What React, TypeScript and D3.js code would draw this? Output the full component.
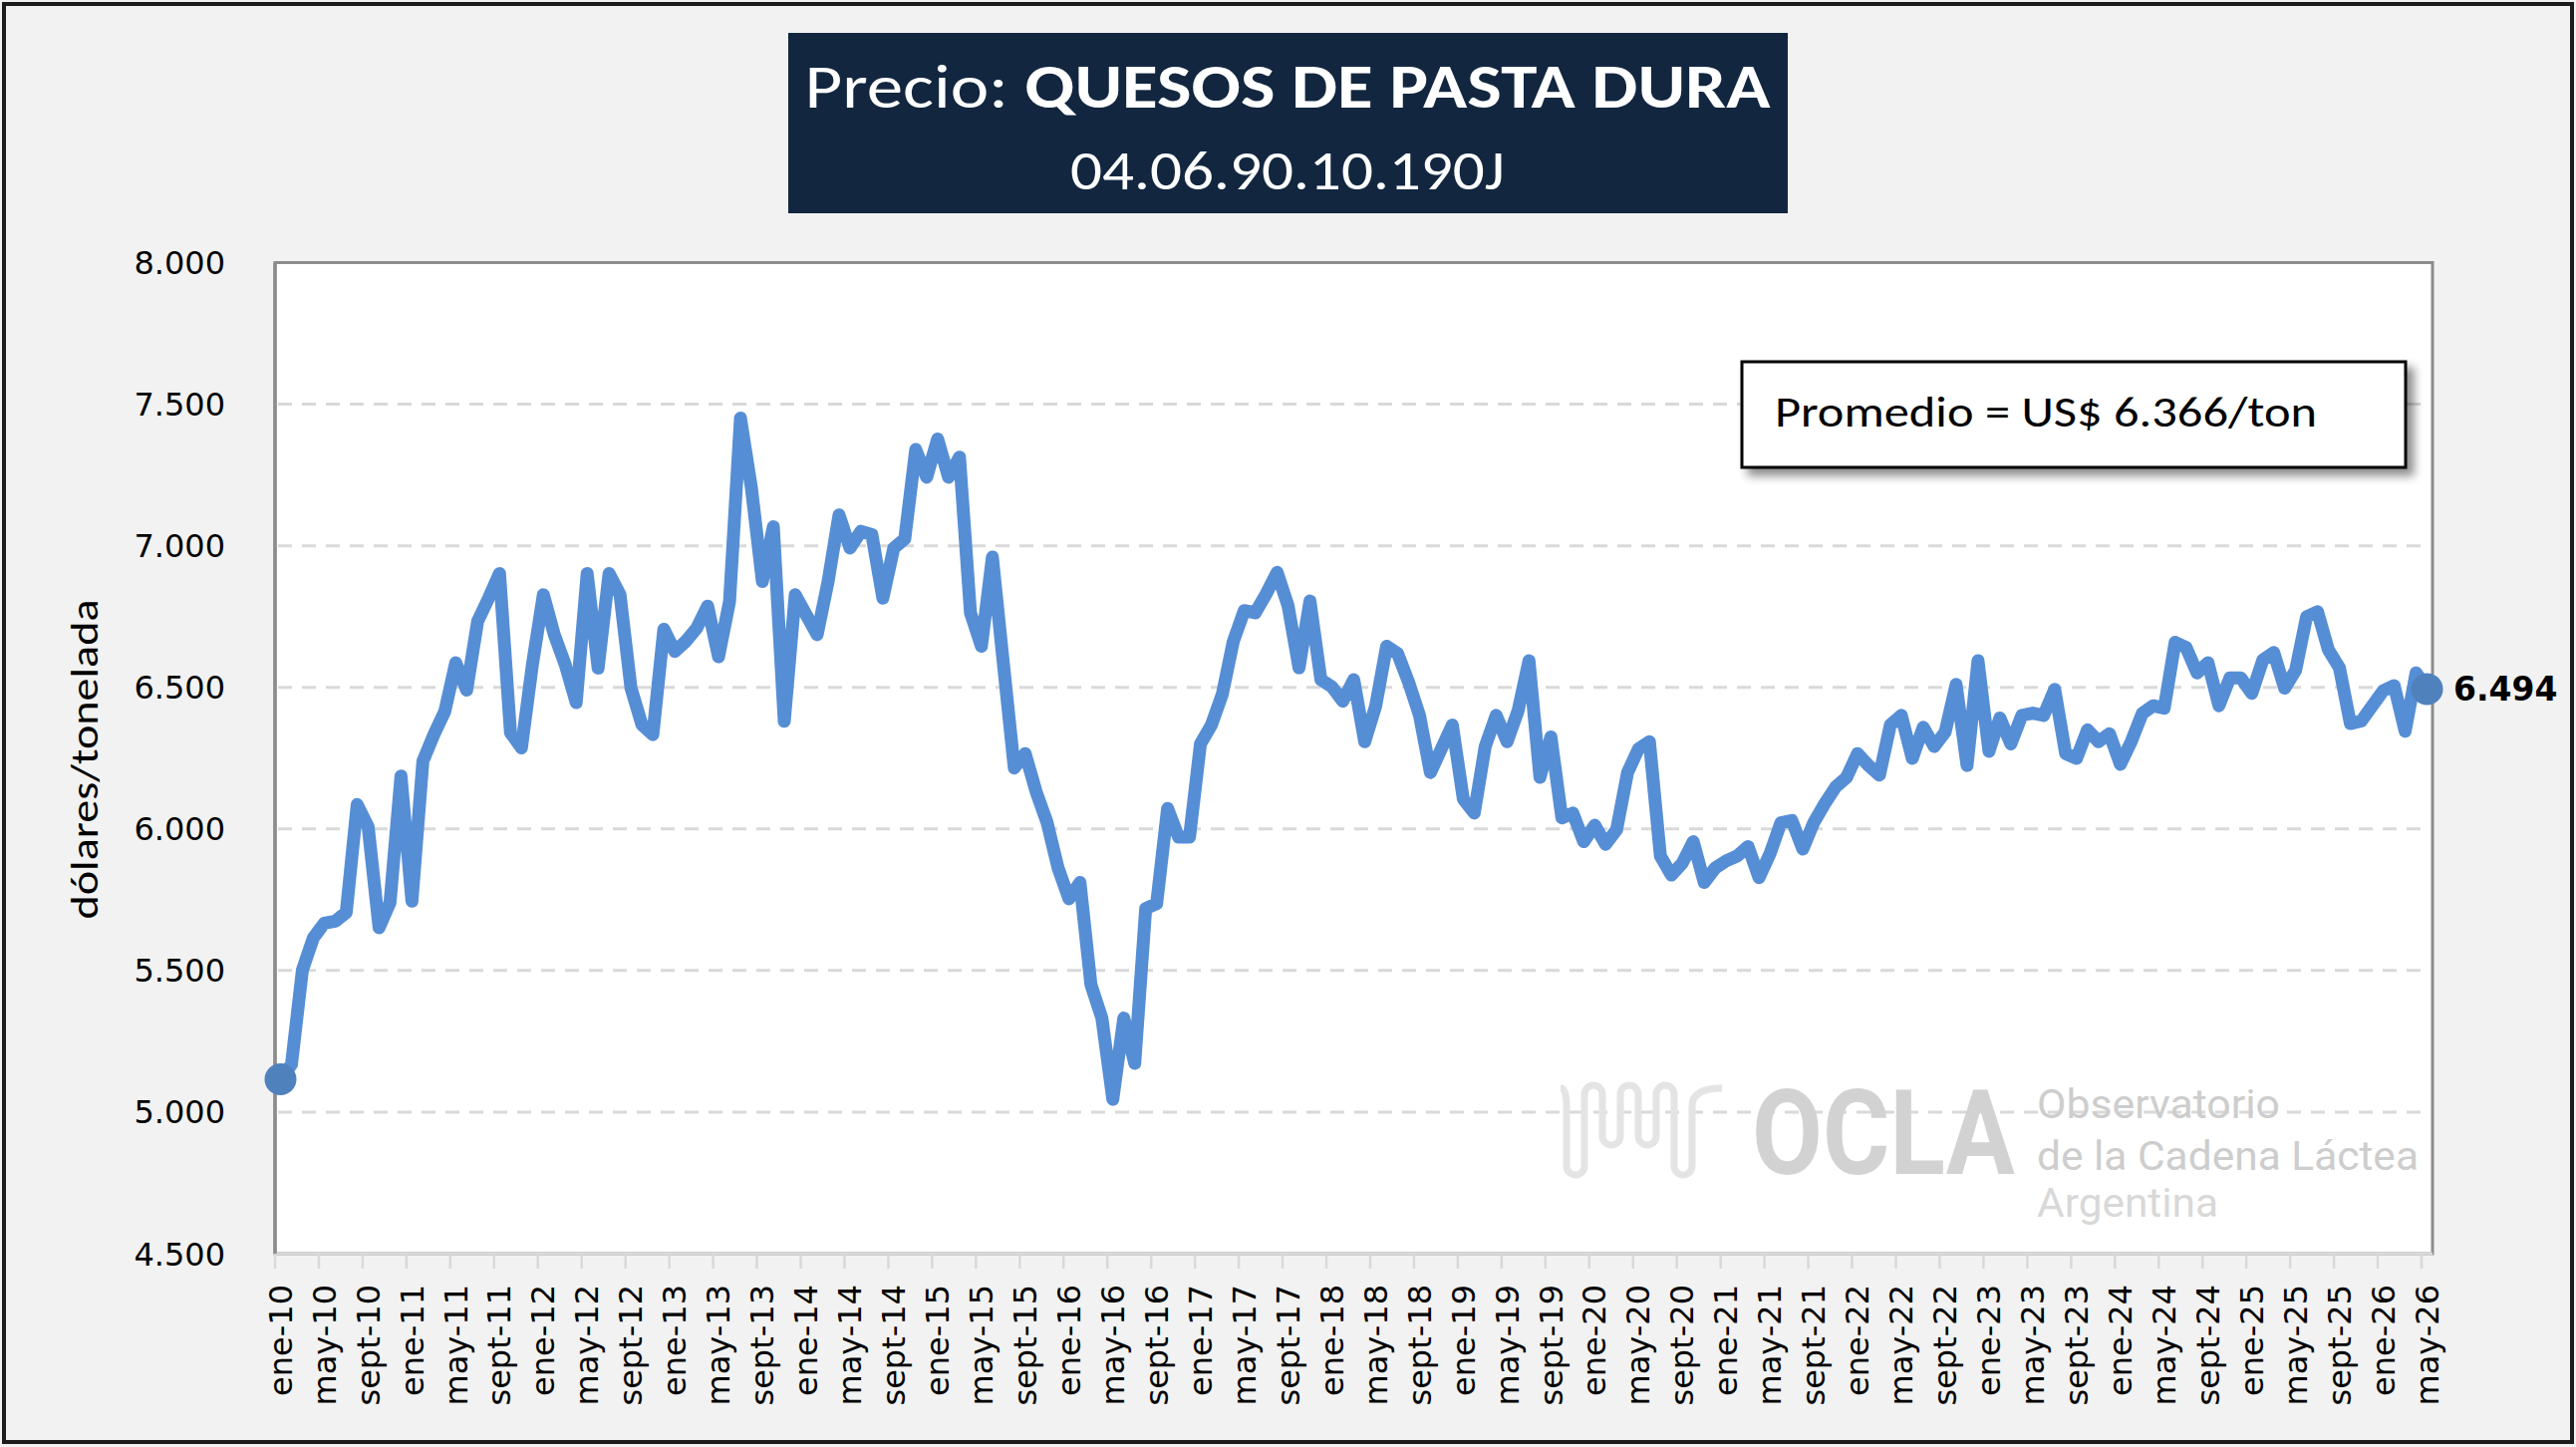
import React, { useEffect, useRef } from "react";
import * as d3 from "d3";

const W = 2585;
const H = 1452;

// categories: monthly, ene-10 .. may-26
const monthNames = ["ene", "feb", "mar", "abr", "may", "jun", "jul", "ago", "sept", "oct", "nov", "dic"];
const years = ["10", "11", "12", "13", "14", "15", "16", "17", "18", "19", "20", "21", "22", "23", "24", "25", "26"];
const categories = years.flatMap((y) => monthNames.map((m) => `${m}-${y}`)).slice(0, 197);

// USD / ton
const prices = [
  5116, 5168, 5502, 5615, 5667, 5674, 5705, 6086, 6008, 5651, 5740, 6187,
  5745, 6239, 6333, 6415, 6587, 6490, 6733, 6815, 6902, 6340, 6286, 6580,
  6827, 6686, 6580, 6446, 6902, 6568, 6902, 6827, 6498, 6368, 6333, 6705,
  6627, 6662, 6709, 6787, 6608, 6803, 7451, 7204, 6874, 7067, 6380, 6827,
  6756, 6686, 6874, 7109, 6992, 7051, 7039, 6815, 6992, 7024, 7340, 7242,
  7377, 7242, 7313, 6763, 6645, 6960, 6586, 6215, 6266, 6131, 6022, 5862,
  5753, 5811, 5450, 5332, 5045, 5332, 5172, 5719, 5736, 6072, 5971, 5971,
  6300, 6367, 6476, 6662, 6771, 6763, 6830, 6906, 6788, 6569, 6805, 6527,
  6502, 6451, 6527, 6308, 6434, 6645, 6620, 6519, 6401, 6199, 6283, 6367,
  6106, 6056, 6291, 6401, 6308, 6417, 6594, 6182, 6325, 6039, 6056, 5955,
  6013, 5946, 5997, 6199, 6283, 6308, 5904, 5837, 5879, 5955, 5811, 5862,
  5887, 5904, 5938, 5828, 5912, 6022, 6030, 5929, 6022, 6089, 6148, 6182,
  6266, 6224, 6190, 6367, 6401, 6249, 6359, 6291, 6342, 6510, 6224, 6594,
  6274, 6392, 6300, 6401, 6409, 6401, 6493, 6266, 6249, 6350, 6308, 6336,
  6228, 6309, 6408, 6435, 6426, 6659, 6641, 6551, 6587, 6435, 6533, 6533,
  6479, 6596, 6623, 6497, 6560, 6749, 6767, 6632, 6569, 6372, 6381, 6435,
  6488, 6506, 6345, 6551, 6494,
];

const yTicks = [4500, 5000, 5500, 6000, 6500, 7000, 7500, 8000];
const average = 6366;
const titleRegular = "Precio: ";
const titleBold = "QUESOS DE PASTA DURA";
const subtitle = "04.06.90.10.190J";
const yAxisTitle = "dólares/tonelada";
const logoLines = ["Observatorio", "de la Cadena Láctea", "Argentina"];

const locale = d3.formatLocale({ decimal: ",", thousands: ".", grouping: [3], currency: ["$", ""] });
const fmt = locale.format(",.0f");

const CALIBRI = "Carlito, Calibri, Lato, 'Open Sans', sans-serif";
const VERDANA = "Verdana, 'DejaVu Sans', sans-serif";

export default function App() {
  const ref: any = useRef();

  useEffect(() => {
    document.body.style.margin = "0";
    drawChart();
  }, []);

  const drawChart = () => {
    const svg = d3.select(ref.current);
    svg.selectAll("*").remove();

    const left = 276, right = 2441, top = 263.5, bottom = 1258;

    const x = d3.scaleBand().domain(categories).range([left, right]).padding(0);
    const bw = x.bandwidth();
    const cx = (c: string) => (x(c) as number) + bw / 2;
    const y = d3.scaleLinear().domain([4500, 8000]).range([bottom, top]);

    const defs = svg.append("defs");
    const f = defs.append("filter").attr("id", "shadow").attr("x", "-10%").attr("y", "-20%").attr("width", "130%").attr("height", "160%");
    f.append("feDropShadow").attr("dx", 7).attr("dy", 7).attr("stdDeviation", 5).attr("flood-color", "#000").attr("flood-opacity", 0.45);

    // background + outer frame
    svg.append("rect").attr("x", 0).attr("y", 0).attr("width", W).attr("height", H).attr("fill", "#f2f2f2");
    svg.append("rect").attr("x", 4).attr("y", 4).attr("width", W - 8).attr("height", H - 9)
      .attr("fill", "none").attr("stroke", "#1c1c1c").attr("stroke-width", 4);

    // title box
    svg.append("rect").attr("x", 791).attr("y", 33).attr("width", 1003).attr("height", 181).attr("fill", "#12263f");
    const t = svg.append("text").attr("x", 1292).attr("y", 108).attr("text-anchor", "middle")
      .attr("fill", "#fff").attr("font-family", CALIBRI).attr("font-size", 62)
      .attr("textLength", 969).attr("lengthAdjust", "spacingAndGlyphs");
    t.append("tspan").text(titleRegular);
    t.append("tspan").attr("font-weight", "bold").text(titleBold);
    svg.append("text").attr("x", 1292).attr("y", 190).attr("text-anchor", "middle")
      .attr("fill", "#fff").attr("font-family", CALIBRI).attr("font-size", 55)
      .attr("textLength", 436).attr("lengthAdjust", "spacingAndGlyphs").text(subtitle);

    // plot area
    svg.append("rect").attr("x", left).attr("y", top).attr("width", right - left).attr("height", bottom - top)
      .attr("fill", "#fff").attr("stroke", "#8c8c8c").attr("stroke-width", 3);

    svg.append("g").selectAll("line").data(yTicks.filter((d) => d > 4500 && d < 8000)).join("line")
      .attr("x1", left + 3).attr("x2", right - 2).attr("y1", (d) => y(d)).attr("y2", (d) => y(d))
      .attr("stroke", "#d9d9d9").attr("stroke-width", 3).attr("stroke-dasharray", "14 10");

    // watermark
    const wm = svg.append("g");
    const wave = d3.path();
    const wx = [1572, 1590, 1608, 1626, 1644, 1662, 1680, 1698, 1716, 1734];
    wave.moveTo(1566, 1092);
    wave.quadraticCurveTo(wx[0], 1092, wx[0], 1110);
    wave.lineTo(wx[0], 1170);
    wave.arc((wx[0] + wx[1]) / 2, 1170, 9, Math.PI, 0, true);
    wave.lineTo(wx[1], 1098);
    wave.arc((wx[1] + wx[2]) / 2, 1098, 9, Math.PI, 0, false);
    wave.lineTo(wx[2], 1140);
    wave.arc((wx[2] + wx[3]) / 2, 1140, 9, Math.PI, 0, true);
    wave.lineTo(wx[3], 1098);
    wave.arc((wx[3] + wx[4]) / 2, 1098, 9, Math.PI, 0, false);
    wave.lineTo(wx[4], 1140);
    wave.arc((wx[4] + wx[5]) / 2, 1140, 9, Math.PI, 0, true);
    wave.lineTo(wx[5], 1098);
    wave.arc((wx[5] + wx[6]) / 2, 1098, 9, Math.PI, 0, false);
    wave.lineTo(wx[6], 1170);
    wave.arc((wx[6] + wx[7]) / 2, 1170, 9, Math.PI, 0, true);
    wave.lineTo(wx[7], 1110);
    wave.quadraticCurveTo(wx[7], 1092, 1728, 1092);
    wm.append("path").attr("d", wave.toString()).attr("fill", "none").attr("stroke", "#e4e4e4").attr("stroke-width", 7);
    wm.append("text").attr("x", 1758).attr("y", 1178).attr("font-family", "Roboto, 'DejaVu Sans', sans-serif")
      .attr("font-weight", "bold").attr("font-size", 118).attr("fill", "#d2d2d2")
      .attr("textLength", 264).attr("lengthAdjust", "spacingAndGlyphs").text("OCLA");
    const lineLens = [244, 383, 182];
    const lineYs = [1122, 1174, 1221];
    const lineCols = ["#cdcdcd", "#cdcdcd", "#d8d8d8"];
    logoLines.forEach((s, i) => {
      wm.append("text").attr("x", 2044).attr("y", lineYs[i]).attr("font-family", "Roboto, sans-serif")
        .attr("font-size", 41).attr("fill", lineCols[i])
        .attr("textLength", lineLens[i]).attr("lengthAdjust", "spacingAndGlyphs").text(s);
    });

    // x axis
    svg.append("line").attr("x1", left).attr("x2", right).attr("y1", bottom).attr("y2", bottom)
      .attr("stroke", "#d9d9d9").attr("stroke-width", 3);
    svg.append("line").attr("x1", left).attr("x2", left).attr("y1", top).attr("y2", bottom)
      .attr("stroke", "#8c8c8c").attr("stroke-width", 3.5);
    const labelCats = categories.filter((_, i) => i % 4 === 0);
    svg.append("g").selectAll("line").data(labelCats).join("line")
      .attr("x1", (d) => x(d) as number).attr("x2", (d) => x(d) as number)
      .attr("y1", bottom).attr("y2", bottom + 15).attr("stroke", "#d9d9d9").attr("stroke-width", 2.5);
    svg.append("g").selectAll("text").data(labelCats).join("text")
      .attr("transform", (d) => `translate(${cx(d)},1289) rotate(-90)`)
      .attr("dy", "0.35em").attr("text-anchor", "end")
      .attr("font-family", VERDANA).attr("font-size", 32).attr("fill", "#000")
      .text((d) => d);

    // y axis labels
    svg.append("g").selectAll("text").data(yTicks).join("text")
      .attr("x", 226).attr("y", (d) => y(d)).attr("dy", "0.36em").attr("text-anchor", "end")
      .attr("font-family", VERDANA).attr("font-size", 32).attr("fill", "#000")
      .text((d) => fmt(d));
    svg.append("text").attr("transform", "translate(98,762) rotate(-90)").attr("text-anchor", "middle")
      .attr("font-family", CALIBRI).attr("font-size", 39).attr("fill", "#000")
      .attr("textLength", 321).attr("lengthAdjust", "spacingAndGlyphs").text(yAxisTitle);

    // series
    const line: any = d3.line<number>().x((_, i) => cx(categories[i])).y((d) => y(d));
    svg.append("path").datum(prices).attr("d", line).attr("fill", "none")
      .attr("stroke", "#568ed5").attr("stroke-width", 13)
      .attr("stroke-linejoin", "round").attr("stroke-linecap", "round");

    const ends = [0, prices.length - 1];
    svg.append("g").selectAll("circle").data(ends).join("circle")
      .attr("cx", (i) => cx(categories[i])).attr("cy", (i) => y(prices[i])).attr("r", 16)
      .attr("fill", "#4f81bd");

    const last = prices[prices.length - 1];
    svg.append("text").attr("x", 2462).attr("y", y(last)).attr("dy", "0.36em")
      .attr("font-family", VERDANA).attr("font-weight", "bold").attr("font-size", 33).attr("fill", "#000")
      .text(fmt(last));

    // average box
    svg.append("rect").attr("x", 1748).attr("y", 363).attr("width", 666).attr("height", 106)
      .attr("fill", "#fff").attr("stroke", "#000").attr("stroke-width", 3).attr("filter", "url(#shadow)");
    svg.append("text").attr("x", 1781).attr("y", 428).attr("font-family", CALIBRI).attr("font-size", 43)
      .attr("fill", "#000").attr("textLength", 544).attr("lengthAdjust", "spacingAndGlyphs")
      .text(`Promedio = US$ ${fmt(average)}/ton`);
  };

  return <svg ref={ref} width={W} height={H} style={{ display: "block" }}></svg>;
}
